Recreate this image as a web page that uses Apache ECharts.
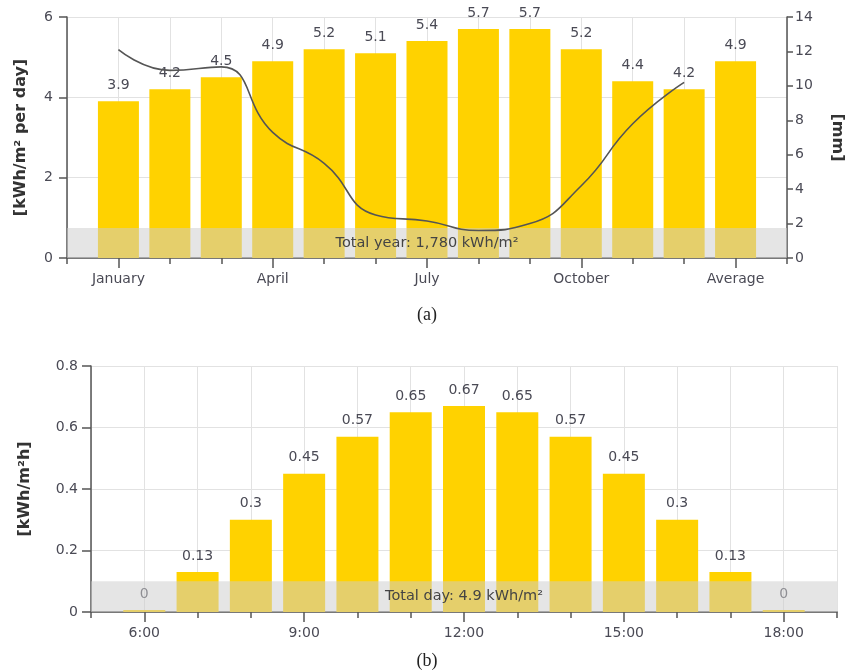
<!DOCTYPE html>
<html>
<head>
<meta charset="utf-8">
<script src="https://cdn.jsdelivr.net/npm/echarts@6/dist/echarts.min.js"></script>
<style>
html,body{margin:0;padding:0;background:#fff;}
#c{width:846px;height:672px;}
</style>
</head>
<body>
<div id="c"></div>
<script>
// ---- data ----
const months = ['January','February','March','April','May','June','July','August','September','October','November','December','Average'];
const irradiation = [3.9,4.2,4.5,4.9,5.2,5.1,5.4,5.7,5.7,5.2,4.4,4.2,4.9];
const precipitation = [12.1,10.9,11.1,7.3,5.5,2.5,2.15,1.6,2.0,4.2,7.8,10.2];
const monthTickLabels = ['January','April','July','October','Average'];
const yearTotalText = 'Total year: 1,780 kWh/m²';

const hours = ['6:00','7:00','8:00','9:00','10:00','11:00','12:00','13:00','14:00','15:00','16:00','17:00','18:00'];
const hourly = [0,0.13,0.3,0.45,0.57,0.65,0.67,0.65,0.57,0.45,0.3,0.13,0];
const hourTickLabels = ['6:00','9:00','12:00','15:00','18:00'];
const dayTotalText = 'Total day: 4.9 kWh/m²';

// ---- build ----
const FONT = 'DejaVu Sans';
const TXT = '#4a4a55';
const AX = '#555';
const GRID = '#e2e2e2';
const YEL = '#ffd200';
const BAND = 'rgba(205,205,205,0.52)';

const monthPos = months.map((m,i)=>i+1);
const monthLabelPos = monthTickLabels.map(l=>months.indexOf(l)+1);
const hourPos = hours.map((h,i)=>i+6);
const hourLabelPos = hourTickLabels.map(l=>hours.indexOf(l)+6);

const chart = echarts.init(document.getElementById('c'), null, {renderer:'canvas'});

function baseX(grid, min, max){
  return {
    type:'value', gridIndex:grid, min:min, max:max, interval:1, position:'bottom',
    axisLine:{show:true, onZero:false, lineStyle:{color:AX, width:1.5}},
    axisTick:{show:true, length:6, lineStyle:{color:AX, width:1.5}},
    axisLabel:{show:false},
    splitLine:{show:true, lineStyle:{color:GRID, width:1}}
  };
}
function labelX(grid, min, max, pos, labs){
  return {
    type:'value', gridIndex:grid, min:min, max:max, position:'bottom',
    axisLine:{show:false, onZero:false},
    axisTick:{show:true, length:10, customValues:pos, lineStyle:{color:AX, width:1.5}},
    axisLabel:{show:true, customValues:pos, margin:14, fontFamily:FONT, fontSize:14, color:TXT,
      formatter:function(v){ const k = pos.indexOf(Math.round(v)); return k>=0 ? labs[k] : ''; }},
    splitLine:{show:false}
  };
}

const option = {
  animation:false,
  backgroundColor:'#fff',
  grid:[
    {left:67, right:59, top:17, bottom:414, containLabel:false, outerBoundsMode:'none'},
    {left:91, right:9, top:366, bottom:60, containLabel:false, outerBoundsMode:'none'}
  ],
  xAxis:[
    baseX(0,0,14),
    labelX(0,0,14,monthLabelPos,monthTickLabels),
    baseX(1,5,19),
    labelX(1,5,19,hourLabelPos,hourTickLabels)
  ],
  yAxis:[
    {type:'value', gridIndex:0, min:0, max:6, interval:2, position:'left',
      name:'[kWh/m² per day]', nameLocation:'middle', nameGap:38, nameRotate:90,
      nameTextStyle:{fontFamily:FONT, fontSize:16, fontWeight:'bold', color:'#333'},
      axisLine:{show:true, onZero:false, lineStyle:{color:AX, width:1.5}},
      axisTick:{show:true, length:8, lineStyle:{color:AX, width:1.5}},
      axisLabel:{fontFamily:FONT, fontSize:14, color:TXT, margin:14},
      splitLine:{show:true, lineStyle:{color:GRID}}},
    {type:'value', gridIndex:0, min:0, max:14, interval:2, position:'right',
      name:'[mm]', nameLocation:'middle', nameGap:42, nameRotate:-90,
      nameTextStyle:{fontFamily:FONT, fontSize:16, fontWeight:'bold', color:'#333'},
      axisLine:{show:true, onZero:false, lineStyle:{color:AX, width:1.5}},
      axisTick:{show:true, length:6, lineStyle:{color:AX, width:1.5}},
      axisLabel:{fontFamily:FONT, fontSize:14, color:TXT, margin:8},
      splitLine:{show:false}},
    {type:'value', gridIndex:1, min:0, max:0.8, interval:0.2, position:'left',
      name:'[kWh/m²h]', nameLocation:'middle', nameGap:58, nameRotate:90,
      nameTextStyle:{fontFamily:FONT, fontSize:16, fontWeight:'bold', color:'#333'},
      axisLine:{show:true, onZero:false, lineStyle:{color:AX, width:1.5}},
      axisTick:{show:true, length:9, lineStyle:{color:AX, width:1.5}},
      axisLabel:{fontFamily:FONT, fontSize:14, color:TXT, margin:13},
      splitLine:{show:true, lineStyle:{color:GRID}}}
  ],
  series:[
    {type:'bar', xAxisIndex:0, yAxisIndex:0, z:2, barWidth:41,
      data: irradiation.map((v,i)=>[monthPos[i], v]),
      itemStyle:{color:YEL},
      label:{show:true, position:'top', distance:9, fontFamily:FONT, fontSize:14, color:TXT}},
    {type:'line', xAxisIndex:0, yAxisIndex:0, z:5, data:[], silent:true,
      markArea:{silent:true, z:5, itemStyle:{color:BAND},
        label:{show:true, position:'inside', fontFamily:FONT, fontSize:14.5, color:'#444'},
        data:[[{xAxis:0, yAxis:0, name:yearTotalText},{xAxis:14, yAxis:0.75}]]}},
    {type:'line', xAxisIndex:0, yAxisIndex:1, z:8, smooth:true, symbol:'none',
      data: precipitation.map((v,i)=>[monthPos[i], v]),
      lineStyle:{color:'#555', width:1.6}},
    {type:'bar', xAxisIndex:2, yAxisIndex:2, z:2, barWidth:42, barMinHeight:2,
      data: hourly.map((v,i)=>[hourPos[i], v]),
      itemStyle:{color:YEL},
      label:{show:true, position:'top', distance:9, fontFamily:FONT, fontSize:14, color:TXT}},
    {type:'line', xAxisIndex:2, yAxisIndex:2, z:5, data:[], silent:true,
      markArea:{silent:true, z:5, itemStyle:{color:BAND},
        label:{show:true, position:'inside', fontFamily:FONT, fontSize:14.5, color:'#444'},
        data:[[{xAxis:5, yAxis:0, name:dayTotalText},{xAxis:19, yAxis:0.1}]]}}
  ],
  graphic:[
    {type:'text', x:427, y:315, style:{text:'(a)', textAlign:'center', textVerticalAlign:'middle', font:'18px "Liberation Serif"', fill:'#222'}},
    {type:'text', x:427, y:661, style:{text:'(b)', textAlign:'center', textVerticalAlign:'middle', font:'18px "Liberation Serif"', fill:'#222'}}
  ]
};
chart.setOption(option);
</script>
</body>
</html>
